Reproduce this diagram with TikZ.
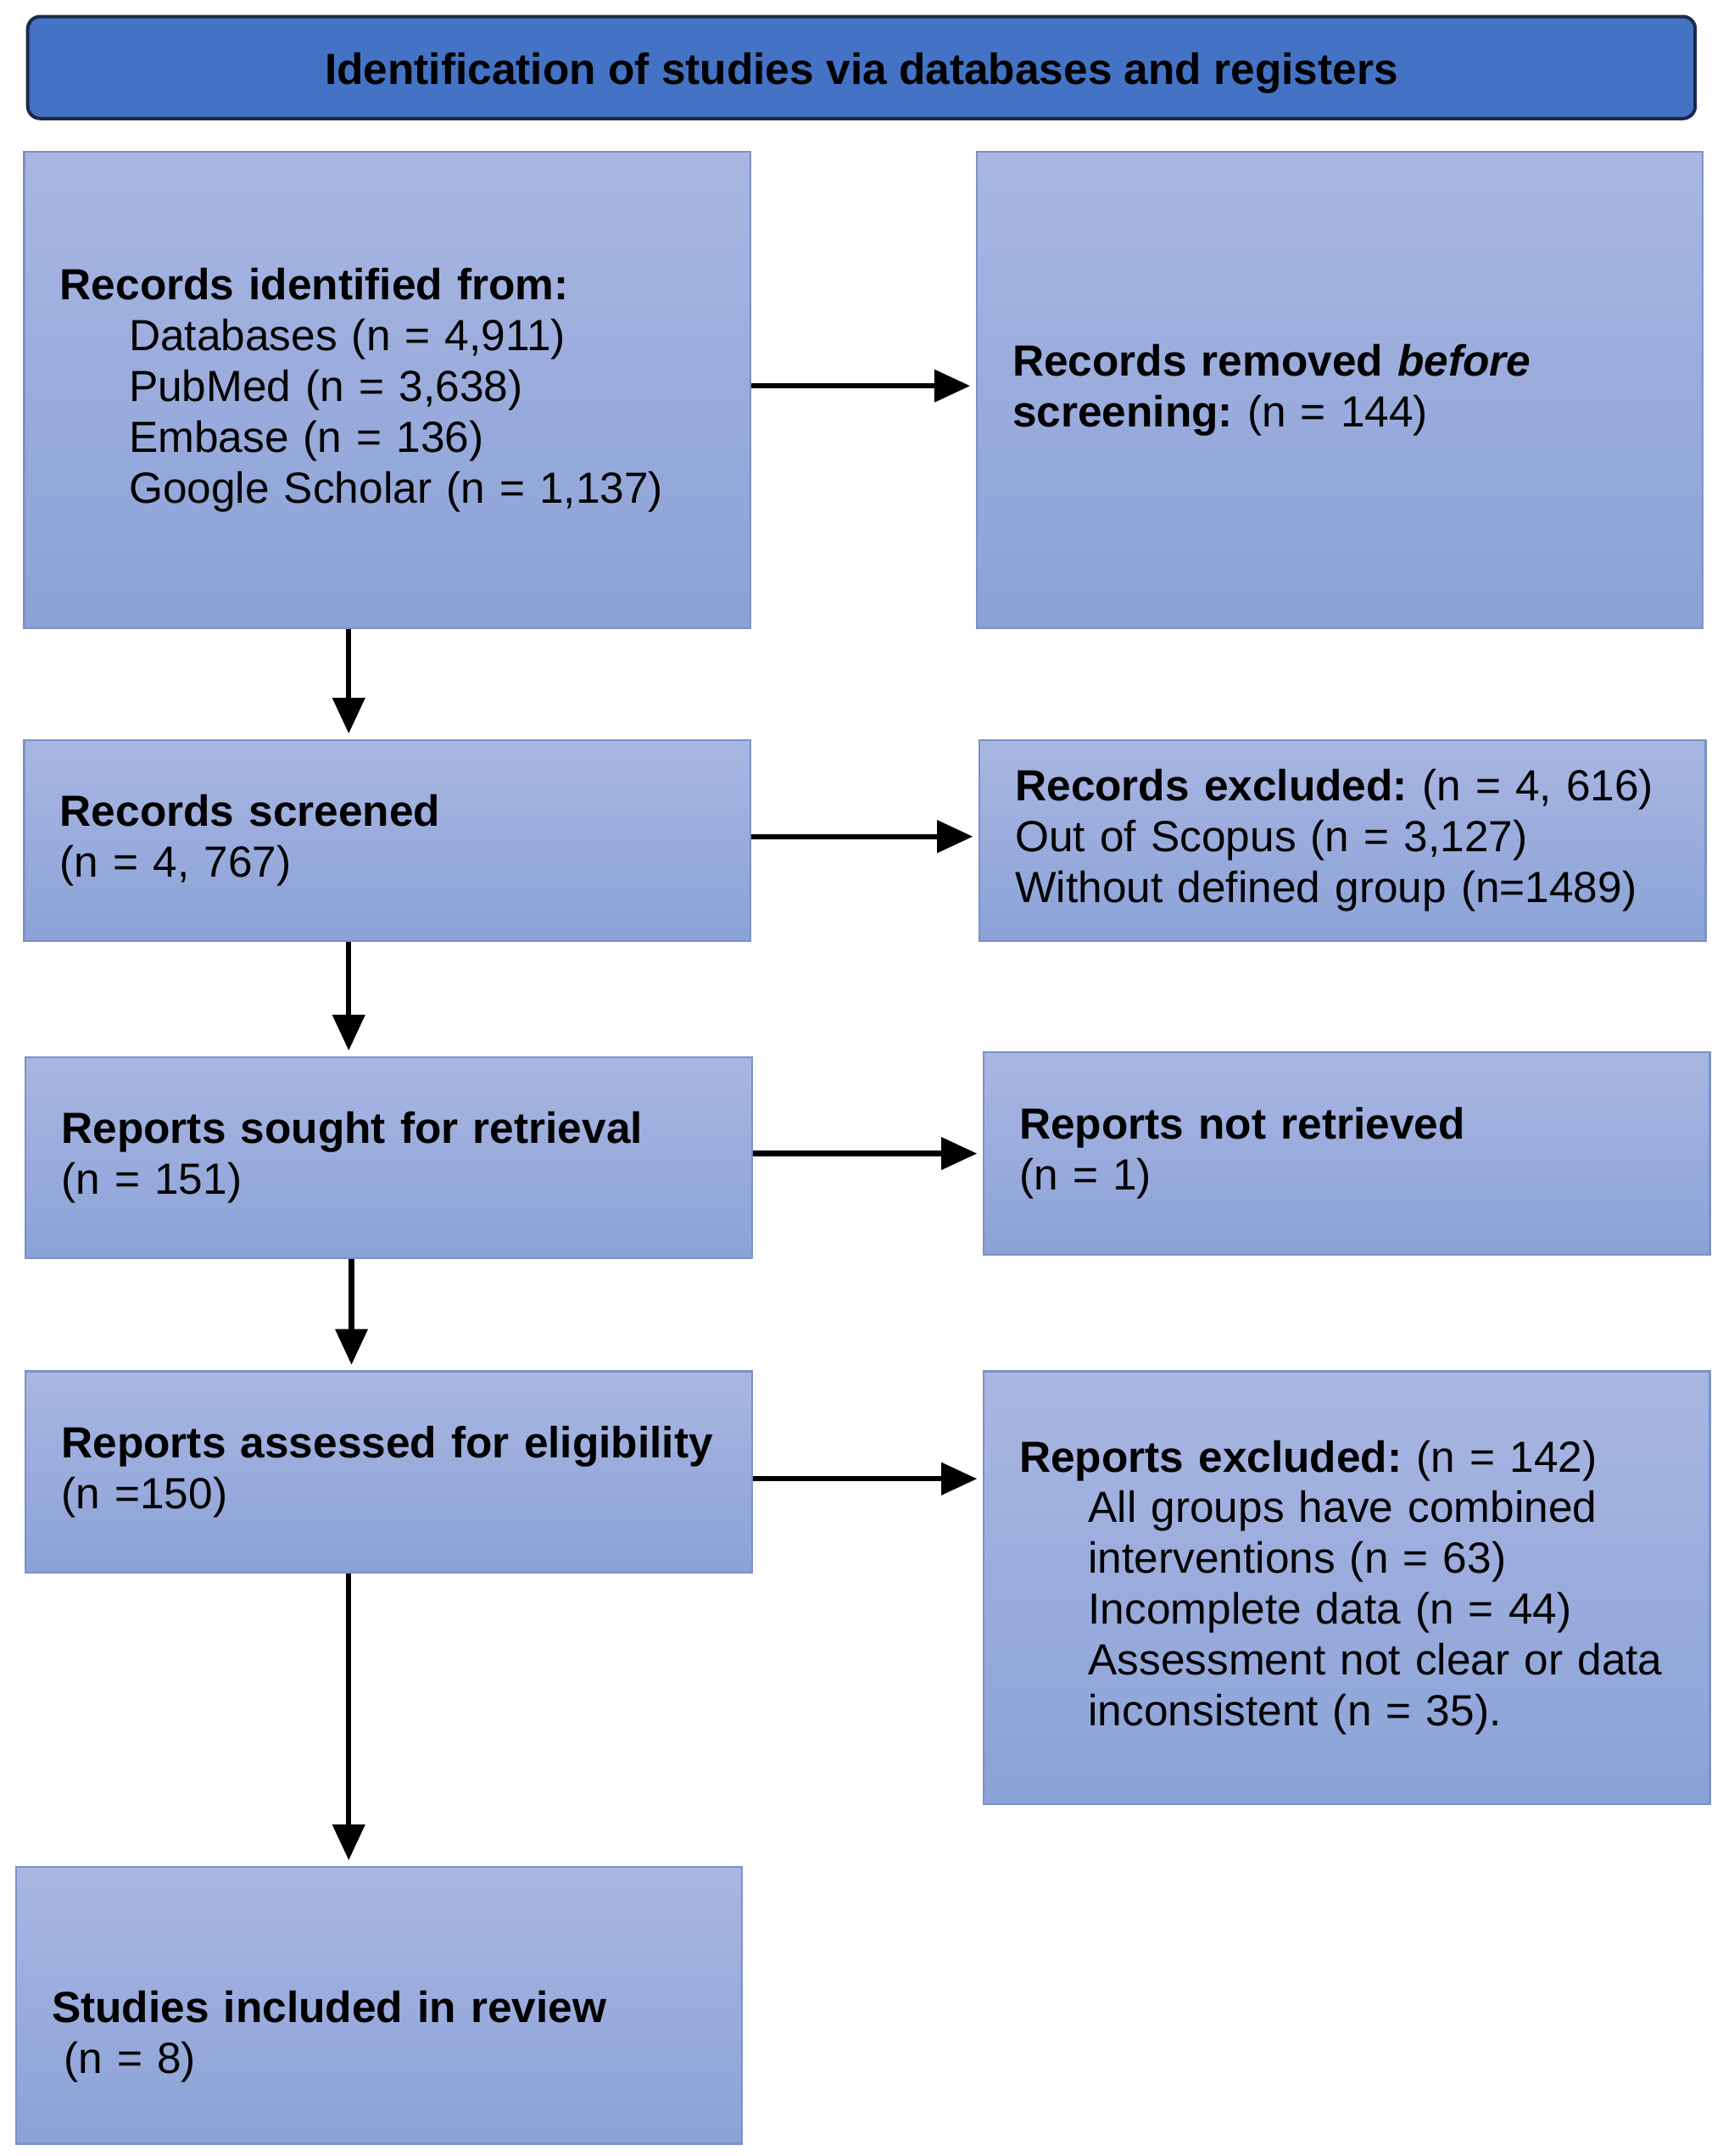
\documentclass[tikz,border=0pt]{standalone}
\usepackage{fontspec}
\setmainfont{Liberation Sans}
\frenchspacing
\usetikzlibrary{arrows.meta}
\definecolor{hdrblue}{HTML}{4472C4}
\definecolor{hdrline}{HTML}{1C2A4A}
\definecolor{boxtop}{HTML}{A9B6E2}
\definecolor{boxbot}{HTML}{8BA2D7}
\definecolor{boxline}{HTML}{7A92C8}
\tikzset{>={Triangle[length=0.52cm,width=0.46cm]}}

\begin{document}
\begin{tikzpicture}[x=0.02cm, y=-0.02cm,
    every node/.style={font=\fontsize{18pt}{21pt}\selectfont},
    header/.style={draw=hdrline, line width=1.4pt, fill=hdrblue, rounded corners=0.18cm,
        minimum width=24.2cm, minimum height=1.48cm, text height=0.62cm, text depth=0.12cm,
        font=\fontsize{18pt}{21pt}\selectfont\bfseries},
    stage/.style={draw=boxline, line width=0.8pt, top color=boxtop, bottom color=boxbot,
        inner xsep=0.52cm, text width=9.5cm, align=left},
    flow/.style={->, line width=2.2pt, shorten >=0.08cm}]
    \useasboundingbox (0,0) rectangle (1250,1564.4);
    \node [header] (head) at (625,49) {Identification of studies via databases and registers};
    % left column
    \node [stage, minimum height=6.92cm] (ident) at (281,283) {\textbf{Records identified from:}\\
        \hspace*{1cm}Databases (n = 4,911)\\
        \hspace*{1cm}PubMed (n = 3,638)\\
        \hspace*{1cm}Embase (n = 136)\\
        \hspace*{1cm}Google Scholar (n = 1,137)};
    \node [stage, minimum height=2.92cm] (screen) at (281,610) {\textbf{Records screened}\\(n = 4, 767)};
    \node [stage, minimum height=2.92cm] (sought) at (282,840) {\textbf{Reports sought for retrieval}\\(n = 151)};
    \node [stage, minimum height=2.92cm] (assess) at (282,1068) {\textbf{Reports assessed for eligibility}\\(n =150)};
    \node [stage, minimum height=4.02cm] (incl) at (275,1455) {\rule{0pt}{39pt}\textbf{Studies included in review}\\
        \hspace*{0.278em}(n = 8)};
    % right column
    \node [stage, minimum height=6.92cm] (removed) at (972,283) {\textbf{Records removed \textit{before}}\\
        \textbf{screening:} (n = 144)};
    \node [stage, minimum height=2.92cm] (recexcl) at (974,610) {\textbf{Records excluded:} (n = 4, 616)\\
        Out of Scopus (n = 3,127)\\
        Without defined group (n=1489)};
    \node [stage, minimum height=2.94cm] (notretr) at (977,837) {\textbf{Reports not retrieved}\\(n = 1)};
    \node [stage, minimum height=6.28cm] (repexcl) at (977,1152) {\textbf{Reports excluded:} (n = 142)\\
        \hspace*{1cm}All groups have combined\\
        \hspace*{1cm}interventions (n = 63)\\
        \hspace*{1cm}Incomplete data (n = 44)\\
        \hspace*{1cm}Assessment not clear or data\\
        \hspace*{1cm}inconsistent (n = 35).};
    % arrows
    \draw [flow] ([xshift=-0.56cm]ident.south) -- ([xshift=-0.56cm]ident.south |- screen.north);
    \draw [flow] ([xshift=-0.56cm]screen.south) -- ([xshift=-0.56cm]screen.south |- sought.north);
    \draw [flow] ([xshift=-0.54cm]sought.south) -- ([xshift=-0.54cm]sought.south |- assess.north);
    \draw [flow] ([xshift=-0.58cm]assess.south) -- ([xshift=-0.58cm]assess.south |- incl.north);
    \draw [flow] ([yshift=0.06cm]ident.east) -- ([yshift=0.06cm]ident.east -| removed.west);
    \draw [flow] ([yshift=0.06cm]screen.east) -- ([yshift=0.06cm]screen.east -| recexcl.west);
    \draw [flow] ([yshift=0.06cm]sought.east) -- ([yshift=0.06cm]sought.east -| notretr.west);
    \draw [flow] ([yshift=-0.1cm]assess.east) -- ([yshift=-0.1cm]assess.east -| repexcl.west);
\end{tikzpicture}
\end{document}
